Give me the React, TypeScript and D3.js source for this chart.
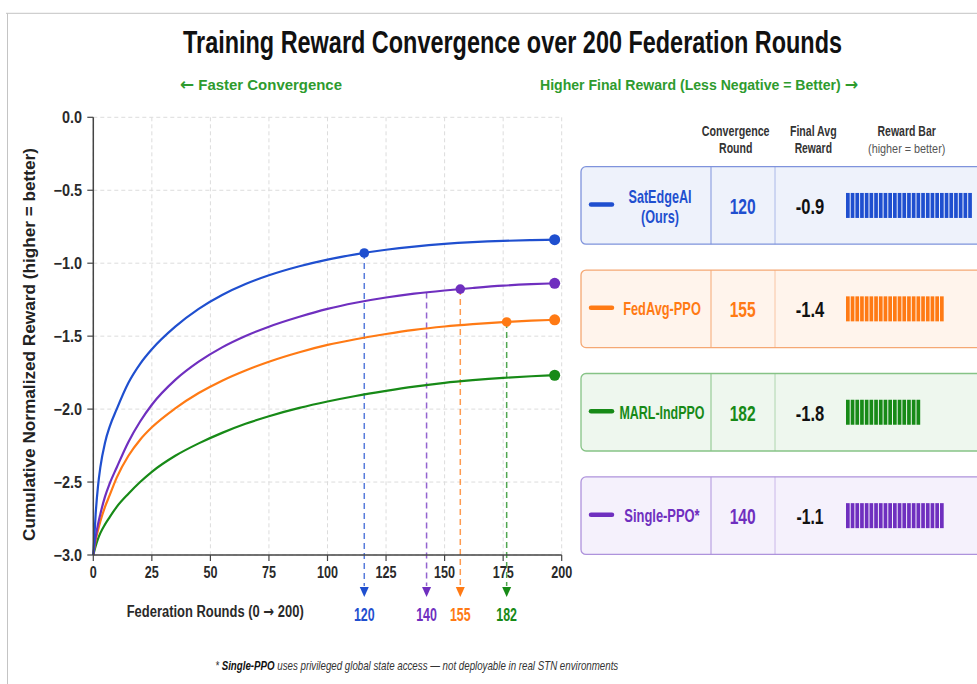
import React from 'react';
import * as d3 from 'd3';

// ---------- DATA ----------
const rounds = [0, 1, 2, 3, 5, 7, 10, 15, 20, 25, 35, 45, 55, 65, 75, 88, 100, 112, 125, 137, 150, 162, 175, 187, 197];
const rewardSatEdgeAI = [-3, -2.72, -2.53, -2.4, -2.23, -2.12, -2.0, -1.82, -1.69, -1.59, -1.435, -1.313, -1.218, -1.143, -1.083, -1.021, -0.975, -0.939, -0.908, -0.886, -0.868, -0.856, -0.847, -0.842, -0.839];
const rewardSinglePPO = [-3, -2.88, -2.79, -2.72, -2.6, -2.51, -2.4, -2.225, -2.085, -1.97, -1.8, -1.675, -1.577, -1.499, -1.435, -1.367, -1.313, -1.271, -1.235, -1.209, -1.187, -1.17, -1.154, -1.144, -1.138];
const rewardFedAvgPPO = [-3, -2.9, -2.83, -2.77, -2.67, -2.59, -2.47, -2.32, -2.21, -2.125, -1.995, -1.89, -1.805, -1.735, -1.675, -1.61, -1.56, -1.521, -1.485, -1.457, -1.434, -1.418, -1.404, -1.394, -1.388];
const rewardMARLIndPPO = [-3, -2.94, -2.89, -2.85, -2.79, -2.74, -2.67, -2.58, -2.5, -2.43, -2.32, -2.235, -2.163, -2.101, -2.049, -1.992, -1.948, -1.91, -1.875, -1.846, -1.82, -1.802, -1.786, -1.775, -1.768];

const xTickValues = [0, 25, 50, 75, 100, 125, 150, 175, 200];
const yTickValues = [0, -0.5, -1, -1.5, -2, -2.5, -3];

// convergence markers below the axis
const markerRounds = [115.7, 142.3, 156.7, 176.5];
const markerLabels = ['120', '140', '155', '182'];
const markerSeries = ['sat', 'single', 'fed', 'marl'];
const markerAnchorSeries = ['sat', 'single', 'single', 'fed'];
// highlighted dots on curves
const dotSeries = ['sat', 'single', 'fed'];
const dotRounds = [115.7, 156.7, 176.5];

// right panel table
const methodKeys = ['sat', 'fed', 'marl', 'single'];
const methodNames = ['SatEdgeAI', 'FedAvg-PPO', 'MARL-IndPPO', 'Single-PPO*'];
const methodSubNames = ['(Ours)', '', '', ''];
const convergenceRounds = ['120', '155', '182', '140'];
const finalAvgRewards = ['-0.9', '-1.4', '-1.8', '-1.1'];
const rewardBarSegments = [27, 21, 16, 21];

// ---------- STYLE ----------
const COLORS: Record<string, string> = { sat: '#1f4fcf', fed: '#ff7a14', marl: '#178a17', single: '#6f2fbf' };
const BORDER: Record<string, string> = { sat: '#7f93dc', fed: '#f5a874', marl: '#86c386', single: '#ae93dc' };
const FILL: Record<string, string> = { sat: '#eef2fb', fed: '#fff4ec', marl: '#eef7ee', single: '#f5f1fc' };
const FONT = "'Liberation Sans', Arial, Helvetica, sans-serif";
const ARROW_FONT = "'DejaVu Sans', 'Liberation Sans', sans-serif";
const GREEN_TXT = '#2e9b2e';

const seriesData: Record<string, number[]> = {
  sat: rewardSatEdgeAI,
  single: rewardSinglePPO,
  fed: rewardFedAvgPPO,
  marl: rewardMARLIndPPO,
};
const drawOrder = ['marl', 'fed', 'single', 'sat'];

const nameWidths = [63, 77.7, 85, 75.3];

function T(props: any) {
  const { x, y, w, size, weight = 'normal', fill = '#222', anchor = 'middle', italic, rotate, children } = props;
  return (
    <text
      x={x}
      y={y}
      fontSize={size}
      fontWeight={weight}
      fontStyle={italic ? 'italic' : 'normal'}
      fill={fill}
      textAnchor={anchor}
      fontFamily={FONT}
      textLength={w}
      lengthAdjust="spacingAndGlyphs"
      transform={rotate ? `rotate(${rotate},${x},${y})` : undefined}
    >
      {children}
    </text>
  );
}

export default function App() {
  const W = 977;
  const H = 684;
  const x = d3.scaleLinear().domain([0, 200]).range([93.3, 561.7]);
  const y = d3.scaleLinear().domain([-3, 0]).range([555, 117.3]);
  const line = d3
    .line<number>()
    .x((_d, i) => x(rounds[i]))
    .y((d) => y(d))
    .curve(d3.curveMonotoneX);

  const bis = d3.bisector((r: number) => r).left;
  const valueAt = (key: string, r: number) => {
    const arr = seriesData[key];
    const i = Math.max(1, Math.min(rounds.length - 1, bis(rounds, r)));
    const r0 = rounds[i - 1], r1 = rounds[i];
    const t = (r - r0) / (r1 - r0);
    return arr[i - 1] + (arr[i] - arr[i - 1]) * t;
  };

  const fmtY = (v: number) => (v === 0 ? '0.0' : '\u2212' + Math.abs(v).toFixed(1));

  const rowTop0 = 166.7;
  const rowStep = 103.4;
  const rowH = 77.5;

  return (
    <svg width={W} height={H} style={{ position: 'absolute', left: 0, top: 0, background: '#fff' }}>
      <rect x={0} y={0} width={W} height={H} fill="#fff" />
      {/* frame */}
      <line x1={6} y1={13.3} x2={W} y2={13.3} stroke="#c4c4c4" strokeWidth={1} />
      <line x1={7.5} y1={13.3} x2={7.5} y2={H} stroke="#c4c4c4" strokeWidth={1} />

      {/* title */}
      <T x={512.5} y={52.5} size={31} weight="bold" fill="#111" w={659}>
        Training Reward Convergence over 200 Federation Rounds
      </T>
      <T x={180} y={89.5} size={15} weight="bold" anchor="start" fill={GREEN_TXT} w={162}>
        <tspan fontFamily={ARROW_FONT} fontSize={17}>←</tspan> Faster Convergence
      </T>
      <T x={540} y={89.5} size={15} weight="bold" anchor="start" fill={GREEN_TXT} w={318}>
        Higher Final Reward (Less Negative = Better) <tspan fontFamily={ARROW_FONT} fontSize={17}>→</tspan>
      </T>

      {/* grid */}
      <g>
        {xTickValues.map((v) => (
          <line key={'gx' + v} x1={x(v)} x2={x(v)} y1={y(0)} y2={y(-3)} stroke="#dcdcdc" strokeDasharray="4 3" strokeWidth={1} />
        ))}
        {yTickValues.map((v) => (
          <line key={'gy' + v} x1={x(0)} x2={x(200)} y1={y(v)} y2={y(v)} stroke="#dcdcdc" strokeDasharray="4 3" strokeWidth={1} />
        ))}
      </g>

      {/* marker dashed lines */}
      {markerRounds.map((r, i) => (
        <line
          key={'md' + i}
          x1={x(r)}
          x2={x(r)}
          y1={y(valueAt(markerAnchorSeries[i], r))}
          y2={586}
          stroke={COLORS[markerSeries[i]]}
          strokeOpacity={0.75}
          strokeWidth={1.5}
          strokeDasharray="6 4"
        />
      ))}

      {/* curves */}
      {drawOrder.map((k) => (
        <path key={k} d={line(seriesData[k]) || ''} fill="none" stroke={COLORS[k]} strokeWidth={2.2} strokeLinejoin="round" />
      ))}

      {/* dots on curves */}
      {dotRounds.map((r, i) => (
        <circle key={'dot' + i} cx={x(r)} cy={y(valueAt(dotSeries[i], r))} r={4.8} fill={COLORS[dotSeries[i]]} />
      ))}
      {drawOrder.map((k) => (
        <circle
          key={'end' + k}
          cx={x(rounds[rounds.length - 1])}
          cy={y(seriesData[k][seriesData[k].length - 1])}
          r={5.5}
          fill={COLORS[k]}
        />
      ))}

      {/* axes */}
      <line x1={x(0)} x2={x(0)} y1={y(0)} y2={y(-3)} stroke="#444" strokeWidth={1.5} />
      <line x1={x(0)} x2={x(200)} y1={y(-3)} y2={y(-3)} stroke="#444" strokeWidth={1.5} />
      {yTickValues.map((v) => (
        <g key={'yt' + v}>
          <line x1={x(0) - 6} x2={x(0)} y1={y(v)} y2={y(v)} stroke="#444" strokeWidth={1.2} />
          <T x={82} y={y(v) + 6} size={16} weight="bold" anchor="end" fill="#2a2a2a" w={v === 0 ? 20 : 28.5}>
            {fmtY(v)}
          </T>
        </g>
      ))}
      {xTickValues.map((v) => (
        <g key={'xt' + v}>
          <line x1={x(v)} x2={x(v)} y1={y(-3)} y2={y(-3) + 6} stroke="#444" strokeWidth={1.2} />
          <T x={x(v)} y={578.3} size={16} weight="bold" fill="#2a2a2a" w={String(v).length * 7}>
            {String(v)}
          </T>
        </g>
      ))}
      <T x={35} y={344.5} size={17} weight="bold" fill="#222" rotate={-90} w={393}>
        Cumulative Normalized Reward (higher = better)
      </T>
      <T x={126.7} y={616.5} size={16} weight="bold" anchor="start" fill="#2a2a2a" w={177}>
        Federation Rounds (0 <tspan fontFamily={ARROW_FONT}>→</tspan> 200)
      </T>

      {/* convergence markers */}
      {markerRounds.map((r, i) => (
        <g key={'mk' + i}>
          <path
            d={`M${x(r) - 4.5},587 L${x(r) + 4.5},587 L${x(r)},597 Z`}
            fill={COLORS[markerSeries[i]]}
          />
          <T x={x(r)} y={620.5} size={19} weight="bold" fill={COLORS[markerSeries[i]]} w={20.7}>
            {markerLabels[i]}
          </T>
        </g>
      ))}

      {/* right panel headers */}
      <T x={735.7} y={136} size={14} weight="bold" fill="#333" w={67.7}>Convergence</T>
      <T x={735.7} y={153.3} size={14} weight="bold" fill="#333" w={33.3}>Round</T>
      <T x={813.3} y={136} size={14} weight="bold" fill="#333" w={46.7}>Final Avg</T>
      <T x={813.3} y={153.3} size={14} weight="bold" fill="#333" w={37.3}>Reward</T>
      <T x={906.7} y={136} size={14} weight="bold" fill="#333" w={58.3}>Reward Bar</T>
      <T x={906.7} y={153.3} size={13.5} fill="#555" w={77.3}>(higher = better)</T>

      {/* rows */}
      {methodKeys.map((k, i) => {
        const top = rowTop0 + i * rowStep;
        const cy = top + rowH / 2;
        const segW = 4.7;
        return (
          <g key={'row' + k}>
            <rect x={581} y={top} width={420} height={rowH} rx={5} fill={FILL[k]} stroke={BORDER[k]} strokeWidth={1.3} />
            <line x1={711} x2={711} y1={top} y2={top + rowH} stroke={BORDER[k]} strokeWidth={1} />
            <line x1={775} x2={775} y1={top} y2={top + rowH} stroke={BORDER[k]} strokeOpacity={0.6} strokeWidth={1} />
            <line x1={591} x2={612} y1={cy - 1} y2={cy - 1} stroke={COLORS[k]} strokeWidth={4.5} strokeLinecap="round" />
            {methodSubNames[i] ? (
              <>
                <T x={660} y={cy - 2} size={19} weight="bold" fill={COLORS[k]} w={nameWidths[i]}>
                  {methodNames[i]}
                </T>
                <T x={660} y={cy + 18} size={19} weight="bold" fill={COLORS[k]} w={38}>
                  {methodSubNames[i]}
                </T>
              </>
            ) : (
              <T x={662} y={cy + 6.5} size={19} weight="bold" fill={COLORS[k]} w={nameWidths[i]}>
                {methodNames[i]}
              </T>
            )}
            <T x={742.7} y={cy + 8.5} size={22} weight="bold" fill={COLORS[k]} w={26}>
              {convergenceRounds[i]}
            </T>
            <T x={810} y={cy + 8.5} size={22} weight="bold" fill="#111" w={finalAvgRewards[i] === '-1.1' ? 27 : 28.5}>
              {finalAvgRewards[i]}
            </T>
            {d3.range(rewardBarSegments[i]).map((j) => (
              <rect key={j} x={846 + j * segW} y={cy - 12.5} width={segW - 1} height={25} fill={COLORS[k]} />
            ))}
          </g>
        );
      })}

      {/* footnote */}
      <text
        x={416.7}
        y={670}
        fontSize={13}
        fontStyle="italic"
        fill="#333"
        textAnchor="middle"
        fontFamily={FONT}
        textLength={403}
        lengthAdjust="spacingAndGlyphs"
      >
        *{' '}
        <tspan fontWeight="bold" fill="#111">Single-PPO</tspan> uses privileged global state access — not deployable in real STN environments
      </text>
    </svg>
  );
}
